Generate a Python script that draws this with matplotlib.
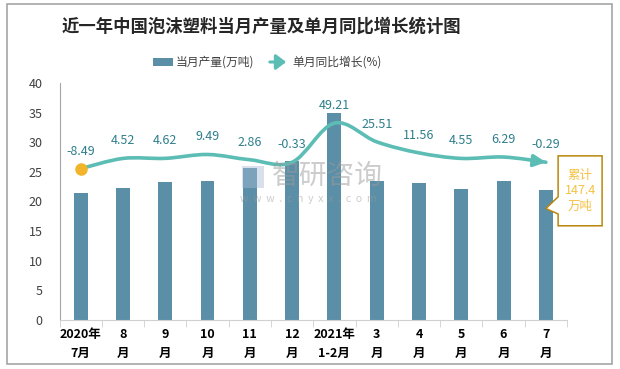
import numpy as np
import matplotlib
matplotlib.use('Agg')
import matplotlib.pyplot as plt
from matplotlib.path import Path
from matplotlib.patches import PathPatch, Rectangle, Polygon

plt.rcParams['font.family'] = ['Noto Sans CJK SC', 'DejaVu Sans']

# data
months = ['2020年\n7月', '8\n月', '9\n月', '10\n月', '11\n月', '12\n月',
          '2021年\n1-2月', '3\n月', '4\n月', '5\n月', '6\n月', '7\n月']
output = [21.4, 22.3, 23.3, 23.4, 25.7, 26.8, 34.9, 23.4, 23.1, 22.1, 23.4, 21.9]
growth = [-8.49, 4.52, 4.62, 9.49, 2.86, -0.33, 49.21, 25.51, 11.56, 4.55, 6.29, -0.29]
total_note = '累计\n147.4\n万吨'

bar_color = '#5B8FA7'
line_color = '#5CBDB4'
label_color = '#2F7E8C'
W, H = 620, 369

fig = plt.figure(figsize=(6.2, 3.69), dpi=100)
fig.patches.append(Rectangle((7 / W, 1 - 364 / H), 605 / W, 360 / H, transform=fig.transFigure,
                             fill=False, edgecolor='#A6A6A6', linewidth=1.2))

ax = fig.add_axes([59.5 / W, 1 - 320 / H, 507.5 / W, 237 / H])
x = np.arange(len(months))
ax.bar(x, output, width=0.33, color=bar_color, zorder=2)
ax.set_xlim(-0.5, len(months) - 0.5)
ax.set_ylim(0, 40)
ax.set_yticks(range(0, 41, 5))
ax.tick_params(axis='y', length=0, pad=12, labelsize=9, labelcolor='#404040')
ax.set_xticks(x)
ax.set_xticklabels(months, fontsize=9, fontweight='bold', linespacing=1.6)
ax.tick_params(axis='x', which='major', length=0, pad=6)
ax.set_xticks(np.arange(-0.5, len(months), 1), minor=True)
ax.tick_params(axis='x', which='minor', length=5, color='#D0D0D0')
for s in ['top', 'right']:
    ax.spines[s].set_visible(False)
ax.spines['left'].set_color('#A6A6A6')
ax.spines['bottom'].set_color('#D0D0D0')

# hidden secondary axis for the growth line
ax2 = ax.twinx()
ax2.set_ylim(-200, 100)
ax2.axis('off')
pts = np.column_stack([x, growth]).astype(float)
ext = np.vstack([pts[0], pts, pts[-1]])
verts = [pts[0]]
codes = [Path.MOVETO]
for i in range(len(pts) - 1):
    p0, p1, p2, p3 = ext[i], ext[i + 1], ext[i + 2], ext[i + 3]
    verts += [p1 + (p2 - p0) / 6, p2 - (p3 - p1) / 6, p2]
    codes += [Path.CURVE4] * 3
ax2.add_patch(PathPatch(Path(verts, codes), facecolor='none', edgecolor=line_color,
                        linewidth=2.6, zorder=3, capstyle='round'))
tail = verts[-2]
ax2.annotate('', xy=pts[-1], xytext=tail,
             arrowprops=dict(arrowstyle='-|>,head_length=0.7,head_width=0.35',
                             color=line_color, lw=2.6, shrinkA=0, shrinkB=0), zorder=4)
ax2.plot(x[0], growth[0], 'o', color='#F2B42A', markersize=8, zorder=5)
for xi, g in zip(x, growth):
    ax2.annotate(f'{g:.2f}', (xi, g), xytext=(0, 8), textcoords='offset points',
                 ha='center', va='bottom', fontsize=9, color=label_color, zorder=6)

# callout box for the cumulative total
last = len(months) - 1
box = Polygon([(last + 0.29, 27.7), (last + 1.33, 27.7), (last + 1.33, 15.9), (last + 0.29, 15.9),
               (last + 0.29, 17.9), (last, 18.8), (last + 0.29, 20.8)],
              closed=True, facecolor='white', edgecolor='#B8860B', linewidth=1.1,
              clip_on=False, zorder=7)
ax.add_patch(box)
ax.text(last + 0.81, 21.8, total_note, ha='center', va='center', fontsize=9,
        color='#F5C242', linespacing=1.25, zorder=8, clip_on=False)

# watermark
fig.text(272 / W, 1 - 176 / H, '智研咨询', fontsize=20, color='#9A9A9A', alpha=0.5,
         va='center', ha='left')
fig.text(240 / W, 1 - 199 / H, 'w  w  w  .  c  h  y  x  x  .  c  o  m', fontsize=7.5,
         color='#9A9A9A', alpha=0.5, va='center', ha='left')
fig.patches.append(Rectangle((242 / W, 1 - 188 / H), 22 / W, 22 / H, transform=fig.transFigure,
                             facecolor='#A8BCD6', alpha=0.45, edgecolor='none'))

# title and legend
fig.text(261 / W, 1 - 27 / H, '近一年中国泡沫塑料当月产量及单月同比增长统计图', fontsize=12.5,
         fontweight='bold', color='#262626', ha='center', va='center')
fig.patches.append(Rectangle((153 / W, 1 - 66 / H), 20 / W, 8 / H, transform=fig.transFigure,
                             facecolor=bar_color, edgecolor='none'))
fig.text(176 / W, 1 - 62 / H, '当月产量(万吨)', fontsize=8.5, color='#404040', va='center')
fig.add_artist(matplotlib.patches.FancyArrowPatch((267 / W, 1 - 62 / H), (289 / W, 1 - 62 / H),
               transform=fig.transFigure, arrowstyle='-|>,head_length=4,head_width=3',
               color=line_color, lw=2.2, mutation_scale=1.5))
fig.text(292 / W, 1 - 62 / H, '单月同比增长(%)', fontsize=8.5, color='#404040', va='center')

fig.savefig('out.png', dpi=100)
